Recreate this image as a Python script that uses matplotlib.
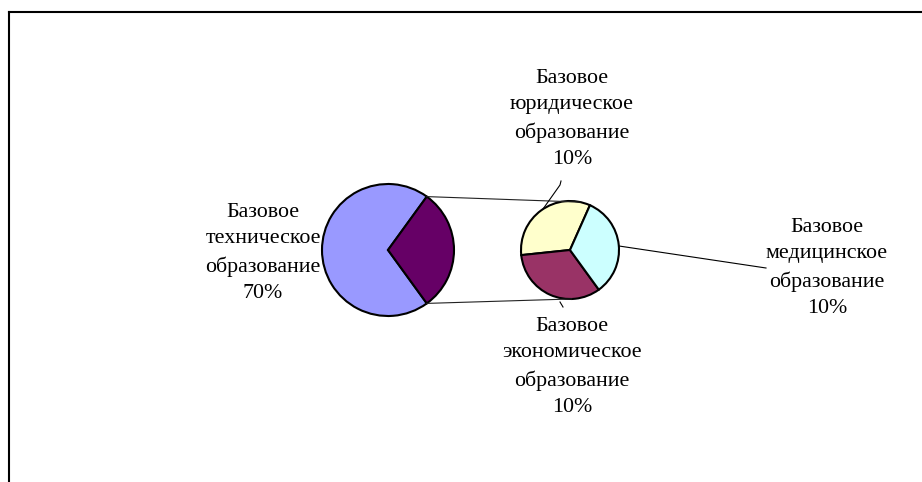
import numpy as np
import matplotlib.pyplot as plt

plt.rcParams['font.family'] = ['Liberation Serif', 'DejaVu Serif']

# main pie: technical vs. the rest
main_labels = ['Базовое\nтехническое\nобразование', 'Другое']
main_values = [70, 30]
main_colors = ['#9999FF', '#660066']

# secondary pie splits the "other" share
sub_labels = ['Базовое\nюридическое\nобразование',
              'Базовое\nэкономическое\nобразование',
              'Базовое\nмедицинское\nобразование']
sub_values = [10, 10, 10]
sub_colors = ['#FFFFCC', '#993366', '#CCFFFF']

W, H = 922, 482
fig = plt.figure(figsize=(W / 100, H / 100), dpi=100)
ax = fig.add_axes([0, 0, 1, 1])

def Y(y):
    # pixel row -> data y (origin at bottom)
    return H - y

c1, r1 = (388, Y(250)), 66
c2, r2 = (570, Y(250)), 49
start1 = 54
start2 = 66

wp = dict(edgecolor='black', linewidth=1.5)
ax.pie(main_values, colors=main_colors, center=c1, radius=r1,
       startangle=start1, wedgeprops=wp, frame=True)
ax.pie(sub_values, colors=sub_colors, center=c2, radius=r2,
       startangle=start2, wedgeprops=wp, frame=True)

ax.set_xlim(0, W)
ax.set_ylim(0, H)
ax.set_aspect('equal')
ax.axis('off')

def pt(c, r, ang):
    a = np.deg2rad(ang)
    return c[0] + r * np.cos(a), c[1] + r * np.sin(a)

# connector lines between the two pies
other_half = main_values[1] / sum(main_values) * 180
for a1, a2 in [(other_half, 78), (-other_half, -88)]:
    p1 = pt(c1, r1, a1)
    p2 = pt(c2, r2, a2)
    ax.plot([p1[0], p2[0]], [p1[1], p2[1]], color='#222222', lw=0.8)

fs = 15.8
ls = 1.5
tot = sum(main_values)
# main pie label
ax.text(263, Y(253), f'{main_labels[0]}\n{main_values[0] * 100 // tot}%',
        ha='center', va='center', fontsize=fs, linespacing=ls)

# secondary labels with leader lines
pos = [(572, Y(119)), (572, Y(367)), (827, Y(268))]
for lab, v, p in zip(sub_labels, sub_values, pos):
    ax.text(p[0], p[1], f'{lab}\n{v * 100 // tot}%', ha='center', va='center',
            fontsize=fs, linespacing=ls)

ax.plot([561, 560, 543], [Y(181), Y(185), Y(209)], color='black', lw=0.8)
ax.plot([619, 766], [Y(246), Y(268)], color='black', lw=0.8)
ax.plot([560, 563], [Y(302), Y(307)], color='black', lw=0.8)

# chart frame (top and left edges)
ax.plot([9, W], [Y(12), Y(12)], color='black', lw=1.5)
ax.plot([9, 9], [Y(12), 0], color='black', lw=1.5)

fig.savefig('out.png', dpi=100)
